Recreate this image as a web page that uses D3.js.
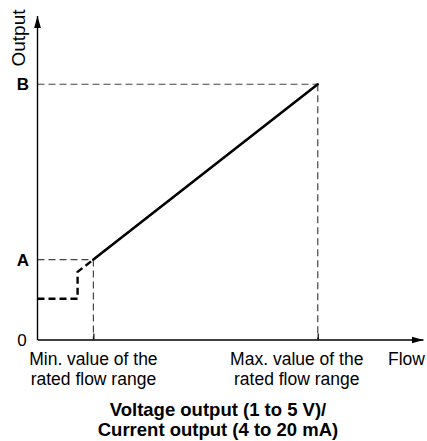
<!DOCTYPE html>
<html>
<head>
<meta charset="utf-8">
<script src="https://cdn.jsdelivr.net/npm/d3@7/dist/d3.min.js"></script>
<style>
  html, body { margin: 0; padding: 0; background: #fff; }
  svg { display: block; font-family: "Liberation Sans", Arial, Helvetica, sans-serif; }
</style>
</head>
<body>
<svg id="chart" width="427" height="441"></svg>
<script>
// Flow and output positions, in percent of each axis' full length
const flowMarks = [14.5, 72.7];                 // min / max of the rated flow range
const flowLabels = [["Min. value of the", "rated flow range"], ["Max. value of the", "rated flow range"]];
const flowLabelShift = [0, -21];                // keep the max label clear of "Flow"
const outputLevels = [24.7, 78.9];              // A and B output levels
const outputLabels = ["A", "B"];

// Linear output across the rated flow range
const ratedFlow = [14.5, 72.7];
const ratedOutput = [24.7, 78.9];

// Output below the minimum rated flow (stepped, dashed)
const lowFlow = [0, 10.4, 10.4, 14.5];
const lowOutput = [12.6, 12.6, 20.9, 24.7];

const titleLines = ["Voltage output (1 to 5 V)/", "Current output (4 to 20 mA)"];

const svg = d3.select("#chart");
const x = d3.scaleLinear().domain([0, 100]).range([37.5, 423]);
const y = d3.scaleLinear().domain([0, 100]).range([339.5, 16]);

const defs = svg.append("defs");
defs.append("marker")
  .attr("id", "arrow")
  .attr("viewBox", "0 0 12 8")
  .attr("refX", 12).attr("refY", 4)
  .attr("markerWidth", 12).attr("markerHeight", 8)
  .attr("markerUnits", "userSpaceOnUse")
  .attr("orient", "auto")
  .append("path").attr("d", "M0,0.6 L12,4 L0,7.4 Z").attr("fill", "#000");

// Reference guides
const guide = svg.append("g")
  .attr("stroke", "#444").attr("stroke-width", 1.2)
  .attr("stroke-dasharray", "7,4").attr("fill", "none");
outputLevels.forEach((v, i) => {
  guide.append("line")
    .attr("x1", x(0)).attr("x2", x(flowMarks[i]))
    .attr("y1", y(v)).attr("y2", y(v));
  guide.append("line")
    .attr("x1", x(flowMarks[i])).attr("x2", x(flowMarks[i]))
    .attr("y1", y(v)).attr("y2", y(0));
});

// Axes
const xAxis = d3.axisBottom(x).tickValues(flowMarks).tickSize(-6).tickSizeOuter(0).tickFormat("");
const gx = svg.append("g").attr("transform", `translate(0,${y(0)})`).call(xAxis);
gx.select(".domain").attr("stroke-width", 1.4).attr("marker-end", "url(#arrow)");
gx.selectAll(".tick line").attr("stroke-width", 1.2);

svg.append("line")
  .attr("x1", x(0)).attr("x2", x(0))
  .attr("y1", y(0) + 0.7).attr("y2", y(100))
  .attr("stroke", "#000").attr("stroke-width", 1.4)
  .attr("marker-end", "url(#arrow)");

// Low-flow step
const line = d3.line().x(d => x(d[0])).y(d => y(d[1]));
svg.append("path")
  .datum(d3.zip(lowFlow, lowOutput))
  .attr("d", line)
  .attr("fill", "none").attr("stroke", "#000")
  .attr("stroke-width", 2.4).attr("stroke-dasharray", "7,4");

// Rated range response
svg.append("path")
  .datum(d3.zip(ratedFlow, ratedOutput))
  .attr("d", line)
  .attr("fill", "none").attr("stroke", "#000")
  .attr("stroke-width", 2.6).attr("stroke-linecap", "round");

// Axis text
svg.append("text")
  .attr("transform", `translate(24.5,38) rotate(-90)`)
  .attr("text-anchor", "middle").attr("font-size", 18)
  .attr("textLength", 57).attr("lengthAdjust", "spacingAndGlyphs")
  .text("Output");

outputLabels.forEach((s, i) => {
  svg.append("text")
    .attr("x", 23).attr("y", y(outputLevels[i])).attr("dy", "0.36em")
    .attr("text-anchor", "middle").attr("font-size", 17).attr("font-weight", "bold")
    .text(s);
});
svg.append("text")
  .attr("x", 22).attr("y", y(0)).attr("dy", "0.36em")
  .attr("text-anchor", "middle").attr("font-size", 17)
  .text("0");

flowMarks.forEach((v, i) => {
  const t = svg.append("text")
    .attr("text-anchor", "middle").attr("font-size", 17.5);
  flowLabels[i].forEach((s, j) => {
    t.append("tspan").attr("x", x(v) + flowLabelShift[i]).attr("y", 364.5 + j * 20).text(s);
  });
});
svg.append("text")
  .attr("x", 425).attr("y", 364.5).attr("text-anchor", "end")
  .attr("font-size", 17.5).text("Flow");

const title = svg.append("text")
  .attr("text-anchor", "middle").attr("font-size", 18.5).attr("font-weight", "bold");
titleLines.forEach((s, j) => {
  title.append("tspan").attr("x", 218).attr("y", 416 + j * 20).text(s);
});
</script>
</body>
</html>
